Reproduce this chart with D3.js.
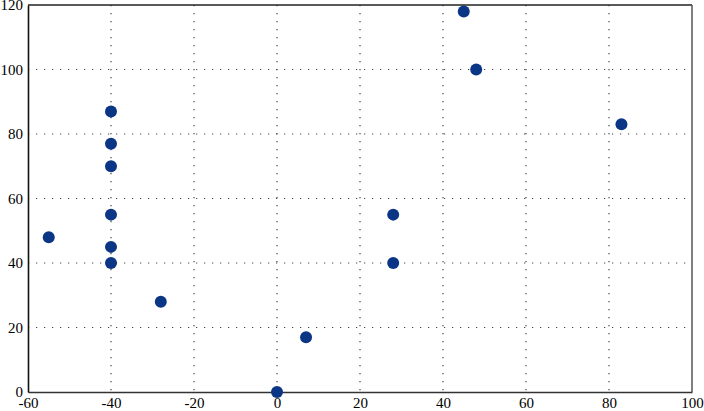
<!DOCTYPE html>
<html>
<head>
<meta charset="utf-8">
<script src="https://cdn.jsdelivr.net/npm/d3@7"></script>
<style>
  body { margin: 0; background: #fff; }
  svg { display: block; }
</style>
</head>
<body>
<div id="chart"></div>
<script>
// scatter values
const xValues = [-55, -40, -40, -40, -40, -40, -40, -28, 0, 7, 28, 28, 45, 48, 83];
const yValues = [48, 87, 77, 70, 55, 45, 40, 28, 0, 17, 55, 40, 118, 100, 83];
const xTicks = [-60, -40, -20, 0, 20, 40, 60, 80, 100];
const yTicks = [0, 20, 40, 60, 80, 100, 120];

const width = 704, height = 411;
const margin = {top: 5, right: 12, bottom: 19, left: 28};

const svg = d3.select('#chart')
  .append('svg')
  .attr('width', width)
  .attr('height', height);

const x = d3.scaleLinear().domain([-60, 100]).range([margin.left, width - margin.right]);
const y = d3.scaleLinear().domain([0, 120]).range([height - margin.bottom, margin.top]);

// dotted grid
svg.append('g')
  .selectAll('line')
  .data(xTicks.slice(1, -1))
  .join('line')
  .attr('x1', d => x(d)).attr('x2', d => x(d))
  .attr('y1', y(120)).attr('y2', y(0))
  .attr('stroke', '#444')
  .attr('stroke-width', 1.2)
  .attr('stroke-dasharray', '1.2,6.8');

svg.append('g')
  .selectAll('line')
  .data(yTicks.slice(1, -1))
  .join('line')
  .attr('x1', x(-60)).attr('x2', x(100))
  .attr('y1', d => y(d)).attr('y2', d => y(d))
  .attr('stroke', '#444')
  .attr('stroke-width', 1.2)
  .attr('stroke-dasharray', '1.2,6.8');

// frame
svg.append('line')
  .attr('x1', x(-60)).attr('x2', x(100))
  .attr('y1', y(120)).attr('y2', y(120))
  .attr('stroke', '#222').attr('stroke-width', 1.3);
svg.append('line')
  .attr('x1', x(100)).attr('x2', x(100))
  .attr('y1', y(120)).attr('y2', y(0))
  .attr('stroke', '#555').attr('stroke-width', 1.5);

// axes (plain hyphen for negatives, like the original)
const fmt = d => String(d);

const xAxis = svg.append('g')
  .attr('transform', `translate(0,${y(0)})`)
  .call(d3.axisBottom(x).tickValues(xTicks).tickFormat(fmt).tickSize(0).tickPadding(5));
xAxis.select('.domain').attr('stroke', '#333').attr('stroke-width', 1.6);

const yAxis = svg.append('g')
  .attr('transform', `translate(${x(-60)},0)`)
  .call(d3.axisLeft(y).tickValues(yTicks).tickFormat(fmt).tickSize(0).tickPadding(5));
yAxis.select('.domain').attr('stroke', '#111').attr('stroke-width', 1.6);

svg.selectAll('.tick text')
  .attr('font-family', '"Liberation Serif", "DejaVu Serif", serif')
  .attr('font-size', 15)
  .attr('fill', '#000');

// points
svg.append('g')
  .selectAll('circle')
  .data(xValues.map((v, i) => [v, yValues[i]]))
  .join('circle')
  .attr('cx', d => x(d[0]))
  .attr('cy', d => y(d[1]))
  .attr('r', 6)
  .attr('fill', '#0b3585');
</script>
</body>
</html>
